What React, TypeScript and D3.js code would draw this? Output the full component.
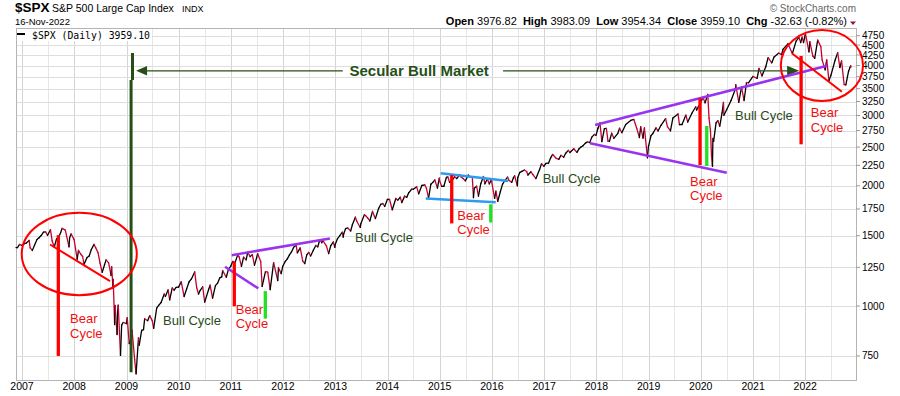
import * as React from 'react';
import * as d3 from 'd3';

const width = 900;
const height = 396;
const plot = {left: 16, right: 856, top: 28, bottom: 380};

// S&P 500 closes, roughly two readings a month (swing highs/lows kept)
const spx: [string, number][] = [
  ['2006-11-20', 1400.5], ['2006-11-30', 1400.6], ['2006-12-15', 1427.1], ['2006-12-29', 1418.3],
  ['2007-01-16', 1431.9], ['2007-01-31', 1438.2], ['2007-02-20', 1459.7], ['2007-02-27', 1399.0],
  ['2007-03-14', 1377.9], ['2007-03-30', 1420.9], ['2007-04-16', 1468.3], ['2007-04-30', 1482.4],
  ['2007-05-15', 1501.2], ['2007-05-31', 1530.6], ['2007-06-15', 1532.9], ['2007-06-29', 1503.4],
  ['2007-07-19', 1553.1], ['2007-07-31', 1455.3], ['2007-08-15', 1406.7], ['2007-08-31', 1474.0],
  ['2007-09-14', 1484.3], ['2007-09-28', 1526.8], ['2007-10-09', 1565.2], ['2007-10-31', 1549.4],
  ['2007-11-26', 1407.2], ['2007-11-30', 1481.1], ['2007-12-10', 1516.0], ['2007-12-31', 1468.4],
  ['2008-01-22', 1310.5], ['2008-01-31', 1378.6], ['2008-02-15', 1350.0], ['2008-02-29', 1330.6],
  ['2008-03-10', 1273.4], ['2008-03-31', 1322.7], ['2008-04-15', 1334.4], ['2008-04-30', 1385.6],
  ['2008-05-19', 1426.6], ['2008-05-30', 1400.4], ['2008-06-16', 1360.1], ['2008-06-30', 1280.0],
  ['2008-07-15', 1214.9], ['2008-07-31', 1267.4], ['2008-08-11', 1305.3], ['2008-08-29', 1282.8],
  ['2008-09-15', 1192.7], ['2008-09-19', 1255.1], ['2008-09-29', 1106.4], ['2008-09-30', 1166.4],
  ['2008-10-10', 899.2], ['2008-10-13', 1003.4], ['2008-10-27', 848.9], ['2008-10-31', 968.8],
  ['2008-11-04', 1005.8], ['2008-11-20', 752.4], ['2008-11-28', 896.2], ['2008-12-08', 909.7],
  ['2008-12-31', 903.3],
  ['2009-01-06', 934.7], ['2009-01-20', 805.2], ['2009-01-30', 825.9], ['2009-02-09', 869.9],
  ['2009-02-27', 735.1], ['2009-03-09', 676.5], ['2009-03-26', 832.9], ['2009-03-31', 797.9],
  ['2009-04-17', 869.6], ['2009-04-30', 872.8], ['2009-05-08', 929.2], ['2009-05-29', 919.1],
  ['2009-06-12', 946.2], ['2009-06-30', 919.3], ['2009-07-10', 879.1], ['2009-07-31', 987.5],
  ['2009-08-14', 1004.1], ['2009-08-31', 1020.6], ['2009-09-22', 1071.7], ['2009-09-30', 1057.1],
  ['2009-10-19', 1097.9], ['2009-10-30', 1036.2], ['2009-11-17', 1110.3], ['2009-11-30', 1095.6],
  ['2009-12-14', 1114.1], ['2009-12-31', 1115.1],
  ['2010-01-19', 1150.2], ['2010-02-08', 1056.7], ['2010-02-26', 1104.5], ['2010-03-15', 1150.5],
  ['2010-03-31', 1169.4], ['2010-04-23', 1217.3], ['2010-05-07', 1110.9], ['2010-05-20', 1071.6],
  ['2010-05-28', 1089.4], ['2010-06-18', 1117.5], ['2010-07-02', 1022.6], ['2010-07-30', 1101.6],
  ['2010-08-09', 1127.8], ['2010-08-26', 1047.2], ['2010-09-15', 1125.1], ['2010-09-30', 1141.2],
  ['2010-10-15', 1176.2], ['2010-10-29', 1183.3], ['2010-11-05', 1225.9], ['2010-11-30', 1180.6],
  ['2010-12-15', 1235.2], ['2010-12-31', 1257.6],
  ['2011-01-14', 1293.2], ['2011-01-31', 1286.1], ['2011-02-18', 1343.0], ['2011-02-28', 1327.2],
  ['2011-03-16', 1256.9], ['2011-03-31', 1325.8], ['2011-04-18', 1305.1], ['2011-04-29', 1363.6],
  ['2011-05-16', 1329.5], ['2011-05-31', 1345.2], ['2011-06-15', 1265.4], ['2011-06-30', 1320.6],
  ['2011-07-07', 1353.2], ['2011-07-29', 1292.3], ['2011-08-08', 1119.5], ['2011-08-31', 1218.9],
  ['2011-09-16', 1216.0], ['2011-10-03', 1099.2], ['2011-10-27', 1284.6], ['2011-11-25', 1158.7],
  ['2011-11-30', 1247.0], ['2011-12-19', 1205.4], ['2011-12-30', 1257.6],
  ['2012-01-17', 1293.7], ['2012-01-31', 1312.4], ['2012-02-15', 1343.2], ['2012-02-29', 1365.7],
  ['2012-03-15', 1402.6], ['2012-04-02', 1419.0], ['2012-04-10', 1358.6], ['2012-04-30', 1397.9],
  ['2012-05-18', 1295.2], ['2012-06-01', 1278.0], ['2012-06-15', 1342.8], ['2012-06-29', 1362.2],
  ['2012-07-12', 1334.8], ['2012-07-31', 1379.3], ['2012-08-17', 1418.2], ['2012-08-31', 1406.6],
  ['2012-09-14', 1465.8], ['2012-09-28', 1440.7], ['2012-10-05', 1460.9], ['2012-10-31', 1412.2],
  ['2012-11-15', 1353.3], ['2012-11-30', 1416.2], ['2012-12-18', 1446.8], ['2012-12-28', 1402.4],
  ['2012-12-31', 1426.2],
  ['2013-01-15', 1472.3], ['2013-01-31', 1498.1], ['2013-02-19', 1530.9], ['2013-02-25', 1488.0],
  ['2013-02-28', 1514.7], ['2013-03-14', 1563.2], ['2013-03-28', 1569.2], ['2013-04-18', 1541.6],
  ['2013-04-30', 1597.6], ['2013-05-21', 1669.2], ['2013-05-31', 1630.7], ['2013-06-24', 1573.1],
  ['2013-06-28', 1606.3], ['2013-07-23', 1692.4], ['2013-07-31', 1685.7], ['2013-08-15', 1661.3],
  ['2013-08-30', 1633.0], ['2013-09-18', 1725.5], ['2013-09-30', 1681.6], ['2013-10-08', 1655.5],
  ['2013-10-31', 1756.5], ['2013-11-15', 1798.2], ['2013-11-29', 1805.8], ['2013-12-12', 1775.5],
  ['2013-12-31', 1848.4],
  ['2014-01-15', 1848.4], ['2014-02-03', 1741.9], ['2014-02-28', 1859.5], ['2014-03-14', 1841.1],
  ['2014-03-31', 1872.3], ['2014-04-11', 1815.7], ['2014-04-30', 1884.0], ['2014-05-15', 1870.9],
  ['2014-05-30', 1923.6], ['2014-06-20', 1962.9], ['2014-06-30', 1960.2], ['2014-07-24', 1988.0],
  ['2014-08-07', 1909.6], ['2014-08-29', 2003.4], ['2014-09-18', 2011.4], ['2014-09-30', 1972.3],
  ['2014-10-15', 1862.5], ['2014-10-31', 2018.1], ['2014-11-14', 2039.8], ['2014-11-28', 2067.6],
  ['2014-12-16', 1972.7], ['2014-12-29', 2090.6], ['2014-12-31', 2058.9],
  ['2015-01-15', 1992.7], ['2015-01-30', 1995.0], ['2015-02-17', 2100.3], ['2015-02-27', 2104.5],
  ['2015-03-11', 2040.2], ['2015-03-31', 2067.9], ['2015-04-15', 2106.6], ['2015-04-30', 2085.5],
  ['2015-05-21', 2130.8], ['2015-05-29', 2107.4], ['2015-06-15', 2084.4], ['2015-06-29', 2057.6],
  ['2015-07-20', 2128.3], ['2015-07-31', 2103.8], ['2015-08-17', 2102.4], ['2015-08-25', 1867.6],
  ['2015-08-31', 1972.2], ['2015-09-16', 1995.3], ['2015-09-29', 1884.1], ['2015-10-15', 2023.9],
  ['2015-11-03', 2109.8], ['2015-11-13', 2023.0], ['2015-11-30', 2080.4], ['2015-12-14', 2021.9],
  ['2015-12-29', 2078.4], ['2015-12-31', 2043.9],
  ['2016-01-20', 1859.3], ['2016-01-29', 1940.2], ['2016-02-11', 1829.1], ['2016-02-29', 1932.2],
  ['2016-03-15', 2015.9], ['2016-03-31', 2059.7], ['2016-04-20', 2102.4], ['2016-04-29', 2065.3],
  ['2016-05-19', 2040.0], ['2016-05-31', 2097.0], ['2016-06-08', 2119.1], ['2016-06-27', 2000.5],
  ['2016-06-30', 2098.9], ['2016-07-15', 2161.7], ['2016-07-29', 2173.6], ['2016-08-15', 2190.2],
  ['2016-08-31', 2171.0], ['2016-09-09', 2127.8], ['2016-09-30', 2168.3], ['2016-10-14', 2133.0],
  ['2016-11-04', 2085.2], ['2016-11-30', 2198.8], ['2016-12-13', 2271.7], ['2016-12-30', 2238.8],
  ['2017-01-13', 2274.6], ['2017-01-31', 2278.9], ['2017-02-15', 2349.3], ['2017-03-01', 2396.0],
  ['2017-03-27', 2341.6], ['2017-04-13', 2329.0], ['2017-04-28', 2384.2], ['2017-05-17', 2357.0],
  ['2017-05-31', 2411.8], ['2017-06-19', 2453.5], ['2017-06-30', 2423.4], ['2017-07-27', 2475.4],
  ['2017-08-18', 2425.6], ['2017-08-31', 2471.7], ['2017-09-15', 2500.2], ['2017-09-29', 2519.4],
  ['2017-10-16', 2557.6], ['2017-10-31', 2575.3], ['2017-11-15', 2564.6], ['2017-11-30', 2647.6],
  ['2017-12-18', 2690.2], ['2017-12-29', 2673.6],
  ['2018-01-12', 2786.2], ['2018-01-26', 2872.9], ['2018-02-08', 2581.0], ['2018-02-26', 2779.6],
  ['2018-03-12', 2783.0], ['2018-03-23', 2588.3], ['2018-04-02', 2581.9], ['2018-04-18', 2708.6],
  ['2018-05-03', 2629.7], ['2018-05-31', 2705.3], ['2018-06-12', 2786.9], ['2018-06-28', 2716.3],
  ['2018-07-25', 2846.1], ['2018-08-29', 2914.0], ['2018-09-20', 2930.8], ['2018-10-10', 2785.7],
  ['2018-10-29', 2641.3], ['2018-11-07', 2813.9], ['2018-11-23', 2632.6], ['2018-12-03', 2790.4],
  ['2018-12-24', 2351.1], ['2018-12-31', 2506.9],
  ['2019-01-18', 2670.7], ['2019-01-31', 2704.1], ['2019-02-22', 2792.7], ['2019-03-08', 2743.1],
  ['2019-03-29', 2834.4], ['2019-04-30', 2945.8], ['2019-05-13', 2811.9], ['2019-06-03', 2744.5],
  ['2019-06-20', 2954.2], ['2019-07-26', 3025.9], ['2019-08-05', 2844.7], ['2019-08-23', 2847.1],
  ['2019-09-19', 3006.8], ['2019-10-02', 2887.6], ['2019-10-31', 3037.6], ['2019-11-27', 3153.6],
  ['2019-12-03', 3093.2], ['2019-12-31', 3230.8],
  ['2020-01-17', 3329.6], ['2020-01-31', 3225.5], ['2020-02-19', 3386.2], ['2020-02-28', 2954.2],
  ['2020-03-09', 2746.6], ['2020-03-16', 2386.1], ['2020-03-23', 2237.4], ['2020-03-26', 2630.1],
  ['2020-03-31', 2584.6], ['2020-04-17', 2874.6], ['2020-04-30', 2912.4], ['2020-05-13', 2820.0],
  ['2020-05-29', 3044.3], ['2020-06-08', 3232.4], ['2020-06-11', 3002.1], ['2020-06-30', 3100.3],
  ['2020-07-31', 3271.1], ['2020-08-31', 3500.3], ['2020-09-02', 3580.8], ['2020-09-23', 3236.9],
  ['2020-10-12', 3534.2], ['2020-10-30', 3270.0], ['2020-11-16', 3626.9], ['2020-11-30', 3621.6],
  ['2020-12-31', 3756.1],
  ['2021-01-29', 3714.2], ['2021-02-12', 3934.8], ['2021-03-04', 3768.5], ['2021-03-31', 3972.9],
  ['2021-04-16', 4185.5], ['2021-05-12', 4063.0], ['2021-05-28', 4204.1], ['2021-06-30', 4297.5],
  ['2021-07-19', 4258.5], ['2021-07-30', 4395.3], ['2021-08-31', 4522.7], ['2021-09-02', 4537.0],
  ['2021-09-30', 4307.5], ['2021-10-04', 4300.5], ['2021-10-29', 4605.4], ['2021-11-18', 4704.5],
  ['2021-11-30', 4567.0], ['2021-12-10', 4712.0], ['2021-12-20', 4568.0], ['2021-12-31', 4766.2],
  ['2022-01-03', 4796.6], ['2022-01-27', 4326.5], ['2022-02-02', 4589.4], ['2022-02-23', 4225.5],
  ['2022-03-08', 4170.7], ['2022-03-29', 4631.6], ['2022-04-20', 4459.5], ['2022-04-29', 4132.0],
  ['2022-05-20', 3901.4], ['2022-05-31', 4132.2], ['2022-06-16', 3666.8], ['2022-06-30', 3785.4],
  ['2022-07-29', 4130.3], ['2022-08-16', 4305.2], ['2022-08-31', 3955.0], ['2022-09-12', 4110.4],
  ['2022-09-30', 3585.6], ['2022-10-12', 3577.0], ['2022-10-31', 3872.0], ['2022-11-10', 3956.4],
  ['2022-11-15', 3991.7], ['2022-11-16', 3959.1]
];

const yTicks = [750, 1000, 1250, 1500, 1750, 2000, 2250, 2500, 2750, 3000, 3250, 3500, 3750, 4000, 4250, 4500, 4750];
const years = d3.range(2007, 2023);
const quote = [['Open', '3976.82'], ['High', '3983.09'], ['Low', '3954.34'], ['Close', '3959.10'], ['Chg', '-32.63 (-0.82%)']];

// annotations, in fractional years and index points
const redCircles = [[2006.994, 1712, 2009.197, 1065], [2021.532, 4909, 2023.108, 3260]];
const redSlopes = [[2007.536, 1426, 2008.686, 1154], [2021.742, 4293, 2022.700, 3439]];
const redBars = [[2007.695, 1505, 750], [2011.066, 1290, 999], [2015.230, 2128, 1610], [2019.986, 3312, 2254], [2021.920, 4227, 2540]];
const greenBars = [[2011.660, 1090, 930], [2015.977, 1797, 1619], [2020.114, 2823, 2241]];
const purpleLines = [[2011.017, 1341, 2012.899, 1476], [2010.888, 1254, 2011.526, 1107], [2017.975, 2839, 2022.418, 3996], [2017.879, 2555, 2020.497, 2156]];
const blueLines = [[2015.020, 2149, 2016.314, 2055], [2014.732, 1860, 2016.073, 1818]];
const bearLabels = [[2007.919, 906, 830], [2011.093, 958, 879], [2015.338, 1641, 1514], [2019.794, 1997, 1842], [2022.106, 2978, 2731]];
const bullLabels = [[2009.701, 896], [2013.378, 1445], [2016.973, 2028], [2020.656, 2922]];
const secularBar = [[2009.116, 4300, 3680], [2009.088, 3680, 683]];
const secularArrow = {level: 3880, tipL: 2009.184, endL: 2013.143, text: 2014.604, startR: 2016.213, tipR: 2021.882};

const parse = d3.timeParse('%Y-%m-%d');
const yr = (t: number) => new Date(Math.floor(t), 0, 1 + Math.round((t % 1) * 365.25));

const x = d3.scaleTime()
  .domain([new Date(2006, 10, 20), new Date(2022, 11, 22)])
  .range([plot.left, plot.right]);
const y = d3.scaleLog().domain([653, 4966]).range([plot.bottom, plot.top]);
const xt = (t: number) => x(yr(t));

const font = "'Liberation Sans', Arial, sans-serif";
const RED = '#ff0000';
const DARK_GREEN = '#264f17';

export default function App() {
  const pts = spx.map(([d, v]) => [x(parse(d)!), y(v), v] as [number, number, number]);
  const segs = pts.slice(1).map((p, i) => ({a: pts[i], b: p, up: p[2] >= pts[i][2]}));

  const gridX: Date[] = [];
  years.forEach(yy => { gridX.push(new Date(yy, 0, 1)); gridX.push(new Date(yy, 6, 1)); });

  const ay = y(secularArrow.level);
  const lTip = xt(secularArrow.tipL);
  const rTip = xt(secularArrow.tipR);

  return (
    <svg width={width} height={height} style={{position: 'absolute', left: 0, top: 0, background: '#fff'}} fontFamily={font}>
      {/* header */}
      <text x={15} y={12} fontSize={13.5} fontWeight="bold">$SPX</text>
      <text x={52} y={12} fontSize={10.5}>S&amp;P 500 Large Cap Index</text>
      <text x={182} y={12} fontSize={9}>INDX</text>
      <text x={15} y={25} fontSize={9.5}>16-Nov-2022</text>
      <text x={856} y={12} fontSize={10} fill="#666" textAnchor="end">© StockCharts.com</text>
      <text x={847} y={25} fontSize={11} textAnchor="end" style={{whiteSpace: 'pre'}}>
        {quote.map(([k, v], i) => (
          <React.Fragment key={k}>
            <tspan fontWeight="bold">{(i ? '  ' : '') + k}</tspan>
            <tspan>{' ' + v}</tspan>
          </React.Fragment>
        ))}
      </text>
      <polygon points="850,21.5 856,21.5 853,25" fill="#8b1538" />

      {/* grid */}
      <g stroke="#dedede" strokeWidth={1}>
        {gridX.filter(d => d > x.domain()[0] && d < x.domain()[1]).map((d, i) => (
          <line key={i} x1={Math.round(x(d)) + 0.5} x2={Math.round(x(d)) + 0.5} y1={plot.top} y2={plot.bottom}
            stroke={d.getMonth() === 0 ? '#d4d4d4' : '#e6e6e6'} />
        ))}
        {yTicks.map(t => (
          <line key={t} x1={plot.left} x2={plot.right} y1={Math.round(y(t)) + 0.5} y2={Math.round(y(t)) + 0.5} />
        ))}
      </g>
      <rect x={plot.left + 0.5} y={plot.top + 0.5} width={plot.right - plot.left} height={plot.bottom - plot.top}
        fill="none" stroke="#b4b4b4" />

      {/* axes */}
      {yTicks.map(t => (
        <g key={t}>
          <line x1={plot.right} x2={plot.right + 4} y1={y(t)} y2={y(t)} stroke="#999" />
          <text x={862} y={y(t) + 3.5} fontSize={10}>{t}</text>
        </g>
      ))}
      {years.map(yy => (
        <text key={yy} x={x(new Date(yy, 0, 1))} y={390} fontSize={10.5} textAnchor="middle">{yy}</text>
      ))}

      {/* legend */}
      <rect x={plot.left + 1} y={plot.top + 1} width={135} height={12} fill="#fff" />
      <line x1={17} x2={25} y1={34} y2={34} stroke="#000" strokeWidth={2} />
      <text x={32} y={38.5} fontSize={9.8} fontFamily="'DejaVu Sans Mono', monospace">$SPX (Daily) 3959.10</text>

      {/* price */}
      <g strokeWidth={1.3} strokeLinecap="round">
        {segs.map((s, i) => (
          <line key={i} x1={s.a[0]} y1={s.a[1]} x2={s.b[0]} y2={s.b[1]} stroke={s.up ? '#000' : '#c8002f'} />
        ))}
      </g>

      {/* secular bull market */}
      {secularBar.map(([t, hi, lo], i) => (
        <line key={i} x1={xt(t)} x2={xt(t)} y1={y(hi)} y2={y(lo)} stroke={DARK_GREEN} strokeWidth={3} />
      ))}
      <line x1={lTip + 8} x2={xt(secularArrow.endL)} y1={ay} y2={ay} stroke={DARK_GREEN} strokeWidth={1.3} />
      <line x1={xt(secularArrow.startR)} x2={rTip - 8} y1={ay} y2={ay} stroke={DARK_GREEN} strokeWidth={1.3} />
      <polygon points={`${lTip},${ay} ${lTip + 11},${ay - 4.7} ${lTip + 11},${ay + 4.7}`} fill={DARK_GREEN} />
      <polygon points={`${rTip},${ay} ${rTip - 12},${ay - 5} ${rTip - 12},${ay + 5}`} fill={DARK_GREEN} />
      <text x={xt(secularArrow.text)} y={ay + 5.5} fontSize={15} fontWeight="bold" fill={DARK_GREEN} textAnchor="middle">
        Secular Bull Market
      </text>

      {/* trend lines */}
      {purpleLines.map(([t0, p0, t1, p1], i) => (
        <line key={'p' + i} x1={xt(t0)} y1={y(p0)} x2={xt(t1)} y2={y(p1)} stroke="#9933ee" strokeWidth={2.5} />
      ))}
      {blueLines.map(([t0, p0, t1, p1], i) => (
        <line key={'b' + i} x1={xt(t0)} y1={y(p0)} x2={xt(t1)} y2={y(p1)} stroke="#2d9cf0" strokeWidth={2.5} />
      ))}
      {redSlopes.map(([t0, p0, t1, p1], i) => (
        <line key={'s' + i} x1={xt(t0)} y1={y(p0)} x2={xt(t1)} y2={y(p1)} stroke={RED} strokeWidth={2} />
      ))}
      {redCircles.map(([t0, p0, t1, p1], i) => {
        const x0 = xt(t0), x1 = xt(t1), y0 = y(p0), y1 = y(p1);
        return <ellipse key={'c' + i} cx={(x0 + x1) / 2} cy={(y0 + y1) / 2} rx={(x1 - x0) / 2} ry={(y1 - y0) / 2}
          fill="none" stroke={RED} strokeWidth={2} />;
      })}
      {redBars.map(([t, hi, lo], i) => (
        <line key={'r' + i} x1={xt(t)} x2={xt(t)} y1={y(hi)} y2={y(lo)} stroke={RED} strokeWidth={3.3} />
      ))}
      {greenBars.map(([t, hi, lo], i) => (
        <line key={'g' + i} x1={xt(t)} x2={xt(t)} y1={y(hi)} y2={y(lo)} stroke="#22e022" strokeWidth={3.3} />
      ))}

      {/* labels */}
      {bearLabels.map(([t, p0, p1], i) => (
        <g key={'bl' + i} fill="#f01010" fontSize={13}>
          <text x={xt(t)} y={y(p0)}>Bear</text>
          <text x={xt(t)} y={y(p1)}>Cycle</text>
        </g>
      ))}
      {bullLabels.map(([t, p], i) => (
        <text key={'ul' + i} x={xt(t)} y={y(p)} fontSize={13} fill="#2a4a1c">Bull Cycle</text>
      ))}
    </svg>
  );
}
